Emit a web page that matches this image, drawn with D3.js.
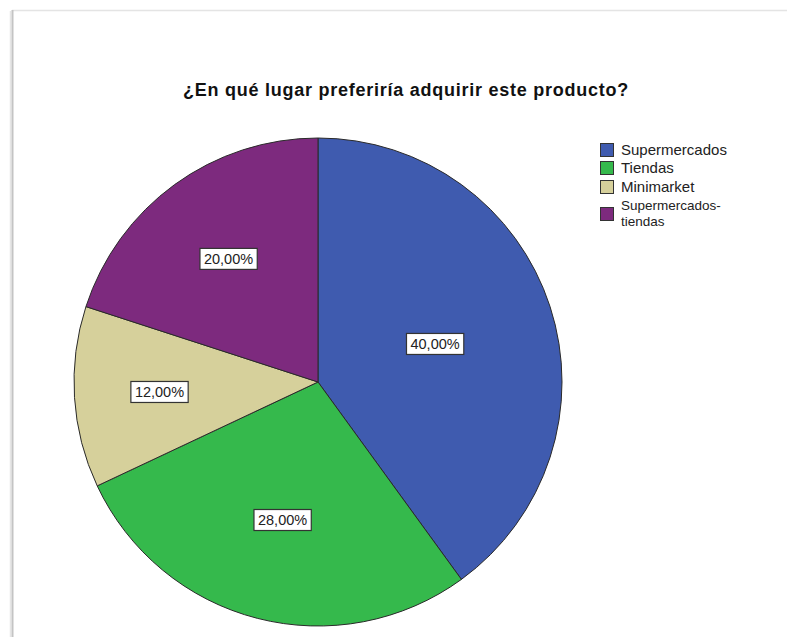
<!DOCTYPE html>
<html><head><meta charset="utf-8">
<script src="https://cdn.jsdelivr.net/npm/d3@7"></script>
<style>html,body{margin:0;padding:0;background:#fff;}svg{display:block;}</style>
</head><body>
<svg id="chart" width="787" height="637"></svg>
<script>
const title = "¿En qué lugar preferiría adquirir este producto?";
const categories = ["Supermercados", "Tiendas", "Minimarket", "Supermercados-tiendas"];
const legendLines = [["Supermercados"], ["Tiendas"], ["Minimarket"], ["Supermercados-", "tiendas"]];
const values = [40, 28, 12, 20];
const labels = ["40,00%", "28,00%", "12,00%", "20,00%"];
const colors = ["#3F5BAF", "#35B94C", "#D6D09B", "#7D2A7E"];

const svg = d3.select("#chart");
const W = 787, H = 637;

// frame
svg.append("rect").attr("x", 0).attr("y", 0).attr("width", W).attr("height", H).attr("fill", "#fff");
svg.append("line").attr("x1", 12).attr("x2", W).attr("y1", 10.5).attr("y2", 10.5)
  .attr("stroke", "#e4e4e4").attr("stroke-width", 1.5);
svg.append("line").attr("x1", 10.5).attr("x2", 10.5).attr("y1", 11).attr("y2", H)
  .attr("stroke", "#e6e6e6").attr("stroke-width", 1.5);
svg.append("line").attr("x1", 12.5).attr("x2", 12.5).attr("y1", 10).attr("y2", H)
  .attr("stroke", "#c4c4c4").attr("stroke-width", 2);

// title
svg.append("text").attr("x", 406).attr("y", 96).attr("text-anchor", "middle")
  .attr("font-family", "Liberation Sans, Arial, sans-serif").attr("font-weight", "bold")
  .attr("font-size", 18).attr("letter-spacing", 0.75).attr("fill", "#111").text(title);

// pie
const cx = 318, cy = 382, R = 244;
const pie = d3.pie().sort(null).value(d => d)(values);
const arc = d3.arc().innerRadius(0).outerRadius(R);
const g = svg.append("g").attr("transform", `translate(${cx},${cy})`);
g.selectAll("path").data(pie).join("path")
  .attr("d", arc).attr("fill", (d, i) => colors[i])
  .attr("stroke", "#2a2a2a").attr("stroke-width", 1);

// labels at sector area centroid
const lg = g.selectAll("g.lab").data(pie).join("g").attr("class", "lab")
  .attr("transform", d => {
    const a = d.endAngle - d.startAngle;
    const r = 4 * R * Math.sin(a / 2) / (3 * a);
    const m = (d.startAngle + d.endAngle) / 2;
    return `translate(${r * Math.sin(m)},${-r * Math.cos(m)})`;
  });
lg.each(function(d, i) {
  const s = d3.select(this);
  const t = s.append("text").attr("text-anchor", "middle").attr("dy", "0.36em")
    .attr("font-family", "Liberation Sans, Arial, sans-serif").attr("font-size", 14.5)
    .attr("fill", "#222").text(labels[i]);
  const b = t.node().getBBox();
  s.insert("rect", "text").attr("x", b.x - 4).attr("y", -10.5).attr("width", b.width + 8).attr("height", 21)
    .attr("fill", "#fff").attr("stroke", "#333").attr("stroke-width", 1.2);
});

// legend
const legY = [143, 161, 180, 207];
const leg = svg.append("g");
categories.forEach((c, i) => {
  leg.append("rect").attr("x", 600.5).attr("y", legY[i] + 0.5).attr("width", 13).attr("height", 13)
    .attr("fill", colors[i]).attr("stroke", "#333").attr("stroke-width", 1);
  const lines = legendLines[i];
  const fs = lines.length === 1 ? 15 : 13.5;
  const base = lines.length === 1 ? legY[i] + 11.5 : legY[i] + 3;
  lines.forEach((ln, j) => {
    leg.append("text").attr("font-family", "Liberation Sans, Arial, sans-serif")
      .attr("font-size", fs).attr("fill", "#222")
      .attr("x", 621).attr("y", base + j * 16).text(ln);
  });
});
</script>
</body></html>
